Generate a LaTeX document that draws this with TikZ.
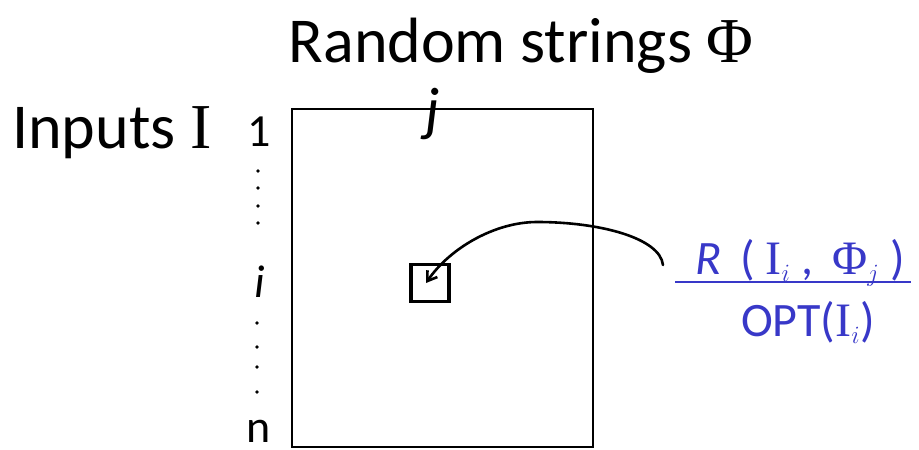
\documentclass[tikz,border=0pt]{standalone}
\usepackage{fontspec}
\setmainfont{Carlito}
\newfontfamily\serifI{Liberation Serif}
\usetikzlibrary{arrows.meta}
\definecolor{inkblue}{HTML}{3838C8}
\begin{document}
\begin{tikzpicture}[x=1pt,y=-1pt,
  hand/.style={inner sep=0pt, font=\fontsize{64}{68}\selectfont},
  idx/.style={inner sep=0pt, font=\fontsize{46}{50}\selectfont},
  dotmark/.style={fill=black, circle, inner sep=0pt, minimum size=3.6pt},
  bluetext/.style={inner sep=0pt, text=inkblue, font=\fontsize{48}{52}\selectfont}]
\useasboundingbox (0,0) rectangle (919,450);
% main matrix
\node[draw, line width=2.2pt, minimum width=301pt, minimum height=338pt, inner sep=0pt] (mat) at (442.5,278) {};
% small cell
\node[draw, line width=3.2pt, minimum width=38pt, minimum height=37pt, inner sep=0pt] (sq) at (430,283) {};
% titles
\node[hand, anchor=base] (rs) at (521,62) {Random strings {\serifI Φ}};
\node[hand, anchor=base west] (inp) at (12,148) {Inputs {\serifI I}};
% row labels
\node[idx, anchor=base] (r1) at (259,146) {1};
\node[dotmark] (d1) at (258,171) {};
\node[dotmark] (d2) at (258,188) {};
\node[dotmark] (d3) at (258,206) {};
\node[dotmark] (d4) at (258,223) {};
\node[idx, anchor=base] (ri) at (260,297) {\textit{i}};
\node[dotmark] (d5) at (257,323) {};
\node[dotmark] (d6) at (257,347) {};
\node[dotmark] (d7) at (257,367) {};
\node[dotmark] (d8) at (257,392) {};
\node[idx, anchor=base] (rn) at (259,442) {n};
% column label
\node[inner sep=0pt, font=\fontsize{60}{64}\selectfont, anchor=base] (cj) at (433,129) {\textit{j}};
% fraction
\node[bluetext, anchor=base] (num) at (800,274) {\textit{R}\, ( {\serifI I}$_i$ , \,{\serifI Φ}$_j$ )};
\node[bluetext, anchor=base] (den) at (808,336) {OPT({\serifI I}$_i$)};
\coordinate (fl) at (675,282);
\coordinate (fr) at (911,282);
\draw[inkblue, line width=2.2pt] (fl) -- (fr);
% arrow
\coordinate (s) at (663,265);
\coordinate (pk) at (537,222);
\draw[line width=2.6pt, line cap=round, -{Straight Barb[length=9pt,width=12pt]}]
  (s) .. controls (660,238) and (600,222) .. (pk)
      .. controls (495,222) and (450,248) .. ([xshift=-4pt]sq.center);
\end{tikzpicture}
\end{document}
